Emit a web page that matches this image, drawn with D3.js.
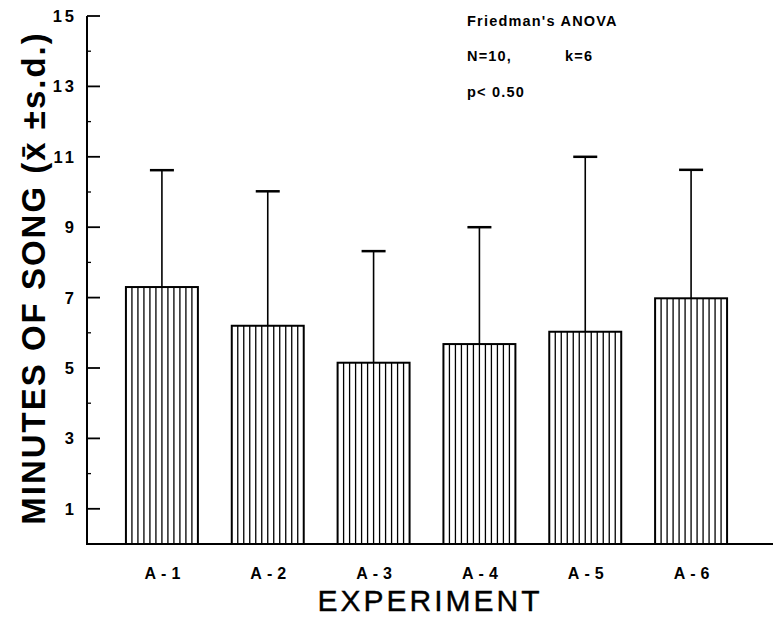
<!DOCTYPE html>
<html><head><meta charset="utf-8">
<script src="https://cdn.jsdelivr.net/npm/d3@7"></script>
<style>
html,body{margin:0;padding:0;background:#fff;}
svg{display:block;font-family:"Liberation Sans",Arial,Helvetica,sans-serif;}
</style></head>
<body>
<svg id="chart" width="773" height="638"></svg>
<script>
const categories = ["A-1","A-2","A-3","A-4","A-5","A-6"];
const means = [7.3, 6.2, 5.15, 5.68, 6.03, 6.98];
const sds = [3.32, 3.82, 3.17, 3.32, 4.97, 3.65];
const majorTicks = [1,3,5,7,9,11,13,15];
const minorTicks = [2,4,6,8,10,12,14];
const annotationLines = ["Friedman's ANOVA", "N=10,", "k=6", "p< 0.50"];

const svg = d3.select("#chart");
const y = d3.scaleLinear().domain([0,15]).range([544,16]);
const x = d3.scaleBand().domain(categories).range([109,744]).paddingInner(0.32).paddingOuter(0.16);
const axisX = 87;

svg.append("line").attr("x1",axisX).attr("x2",axisX).attr("y1",y(15)).attr("y2",y(0)+1)
  .attr("stroke","#000").attr("stroke-width",2);
svg.append("line").attr("x1",axisX-1).attr("x2",773).attr("y1",y(0)).attr("y2",y(0))
  .attr("stroke","#000").attr("stroke-width",2);

svg.selectAll(".maj").data(majorTicks).join("line")
  .attr("x1",axisX).attr("x2",axisX+13).attr("y1",d=>y(d)).attr("y2",d=>y(d))
  .attr("stroke","#000").attr("stroke-width",1.8);
svg.selectAll(".min").data(minorTicks).join("line")
  .attr("x1",axisX).attr("x2",axisX+4).attr("y1",d=>y(d)).attr("y2",d=>y(d))
  .attr("stroke","#000").attr("stroke-width",1.3);
svg.selectAll(".tl").data(majorTicks).join("text")
  .attr("x",77).attr("y",d=>y(d)+6).attr("text-anchor","end")
  .attr("font-size",16.5).attr("letter-spacing",3).attr("font-weight","bold")
  .text(d=>d);

const bw = x.bandwidth();
const g = svg.selectAll(".bar").data(categories).join("g");
g.each(function(c,i){
  const sel = d3.select(this);
  const x0 = x(c), top = y(means[i]), base = y(0);
  const n = 12;
  d3.range(1,n).forEach(k=>{
    const xx = x0 + k*bw/n;
    sel.append("line").attr("x1",xx).attr("x2",xx).attr("y1",top).attr("y2",base)
      .attr("stroke","#000").attr("stroke-width",1.3);
  });
  sel.append("rect").attr("x",x0).attr("y",top).attr("width",bw).attr("height",base-top)
    .attr("fill","none").attr("stroke","#000").attr("stroke-width",2);
  const cx = x0 + bw/2;
  sel.append("line").attr("x1",cx).attr("x2",cx).attr("y1",top).attr("y2",y(means[i]+sds[i]))
    .attr("stroke","#000").attr("stroke-width",1.6);
  sel.append("line").attr("x1",cx-12).attr("x2",cx+12).attr("y1",y(means[i]+sds[i])).attr("y2",y(means[i]+sds[i]))
    .attr("stroke","#000").attr("stroke-width",2.5);
});

svg.selectAll(".cl").data(categories).join("text")
  .attr("x",c=>x(c)+bw/2+3).attr("y",579).attr("text-anchor","middle")
  .attr("font-size",16).attr("font-weight","bold").attr("letter-spacing",5)
  .text(c=>c);

svg.append("text").attr("x",430).attr("y",611).attr("text-anchor","middle")
  .attr("font-size",30).attr("letter-spacing",3).attr("stroke","#000").attr("stroke-width",0.4)
  .text("EXPERIMENT");

svg.append("text").attr("transform","translate(45,278) rotate(-90)")
  .attr("text-anchor","middle").attr("font-size",33).attr("font-weight","bold").attr("letter-spacing",2)
  .text("MINUTES OF SONG (x\u0304 \u00b1s.d.)");

const ann = svg.append("g").attr("font-size",14.5).attr("font-weight","bold").attr("letter-spacing",1.2);
ann.append("text").attr("x",467).attr("y",26).text(annotationLines[0]);
ann.append("text").attr("x",467).attr("y",61).text(annotationLines[1]);
ann.append("text").attr("x",565).attr("y",61).text(annotationLines[2]);
ann.append("text").attr("x",467).attr("y",97).text(annotationLines[3]);
</script>
</body></html>
